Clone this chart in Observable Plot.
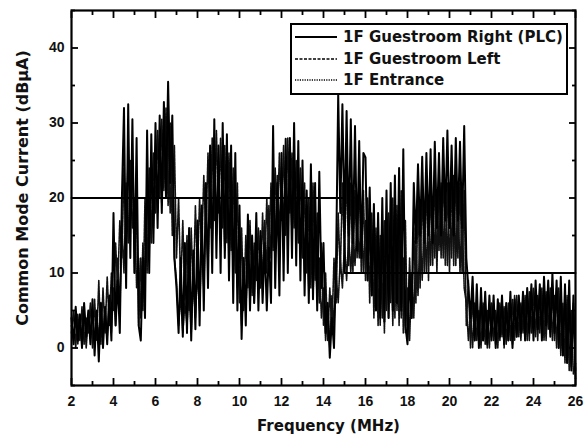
<!DOCTYPE html>
<html>
<head>
<meta charset="utf-8">
<script src="https://cdn.jsdelivr.net/npm/d3@7"></script>
<script src="https://cdn.jsdelivr.net/npm/@observablehq/plot@0.6"></script>
<style>
  html, body { margin: 0; padding: 0; background: #fff; }
  #wrap { position: relative; width: 585px; height: 435px; }
  #legend { position: absolute; left: 290px; top: 23px; width: 278px; height: 72px; border: 2px solid #000; background: #fff; box-sizing: border-box; padding: 1px 0 0 3px; }
  .row { display: flex; align-items: center; height: 21.7px; font-family: "DejaVu Sans", sans-serif; font-weight: bold; font-size: 15px; color: #111; white-space: nowrap; }
  .row svg { margin-right: 6px; flex-shrink: 0; }
</style>
</head>
<body>
<div id="wrap"></div>
<script>
// ---- data ----
const seriesNames = ["1F Guestroom Right (PLC)", "1F Guestroom Left", "1F Entrance"];
const fStart = 2, fStep = 0.1;   // MHz sampling grid
// 1F Guestroom Right (PLC) – solid
const rightPLC = [
  4,0.5,5.5,1,4.5,0,6,1.5,5,0.5,
  6.5,-1,5,-1.8,6,0,5.5,0.5,7,1,
  18,3,9,2,20,32,8,32.5,12,30.5,
  10,28,3,1,12,4,29,10,28.5,14,
  30,16,31,18,32.8,20,35.5,22,31,12,
  8,2,12,1.5,14,2,16,1,13,2.5,
  17,3,19,5,22,8,27,10,30.5,12,
  27,10,30,12,28.5,9,27,6,26,5,
  19,1.2,12,3,17.8,5,15,6,18,5,
  15.6,6,14,5,13.4,6,29.6,8,22,7,
  26,9,27.9,10,28,12,30,11,27.6,9,
  25,7,21,6,24.5,6.5,22,5,23.5,8,
  14,2,6,-1.3,4,0,12,33.8,18,32.5,
  16,31.6,15,30.5,14,29.6,13,27.6,12,26,
  25.4,9,21.4,7,19.2,5,18,4,20,3.5,
  21,4,22,5,23,6,24,5,26.5,3,
  0.5,10,4,22,14,24.5,15,25.5,14,26,
  15,26.5,14,27.5,16,26,15,28,17,29,
  16,27,15,28,17,27.5,16,29.6,12,8,
  4,9.5,1,8.5,0,8,1,7.5,0.5,7,
  1,7,0,6.5,1.5,7,0.5,6,1,7.5,
  0,6.5,1.5,7,2,7.5,1,8,2,8.5,
  1,9,2.5,8.5,1,9.5,3,9,1.5,10,
  2,9,0,9.5,-1,8.5,-2,9,-3,7,
  -4
];
// 1F Guestroom Left – dashed
const guestLeft = [
  2,5,0,4.5,1,5.5,0.5,4,2,6,
  0,6.5,1,9,0.5,8,2,9.5,3,10,
  5,14,8,17,12,24,15,26,18,25,
  10,20,3,12,5,20,10,24,14,26,
  18,29,20,30.5,21,32,19,30,15,27,
  12,20,8,17,6,15,5,16,7,19,
  10,20,13,23,15,26,16,28,17,29,
  18,28,16,27,14,26,13,24,10,22,
  6,16,5,15,8,17,7,14,9,16,
  8,18,10,20,12,22,13,24,16,26,
  17,27,15,28,18,26,16,25,14,24,
  12,22,10,20,8,22,9,18,6,14,
  3,10,1,8,2,12,6,18,10,22,
  12,24,11,22,10,21,12,23,10,21,
  9,20,6,18,4,16,3,15,4,17,
  5,18,6,20,4,19,3,21,2,17,
  1,12,4,16,6,20,8,22,10,23,
  9,22,11,24,10,23,12,24,11,22,
  10,23,11,24,12,22,10,21,3,9,
  0,7,1,6,0.5,7,1,5.5,0,6,
  1.5,6,0.5,5,1,6.5,0,5.5,1,6,
  0.5,7,1.5,6,1,7,2,6.5,1,8,
  2,7.5,1,8,2.5,7,1,8.5,2,7.5,
  1,8,0,6,-1,7,-2,5,-2.5,6,
  -3
];
// 1F Entrance – dotted
const entrance = [
  3,1,4,0.5,3.5,1.5,5,0,4,2,
  5,0.5,4.5,1,6,2,5,1.5,6.5,2,
  8,3,12,5,16,10,22,14,25,16,
  20,8,12,4,14,9,22,13,25,16,
  26,18,28,19,30,21,29,18,26,12,
  9,3,7,2,6,3,8,2,9,4,
  10,5,14,8,18,11,22,14,25,15,
  24,14,25,13,23,12,21,10,18,8,
  10,3,8,5,12,7,13,6,14,8,
  15,9,17,10,19,12,21,14,23,15,
  24,16,25,17,26,15,24,14,22,12,
  20,10,18,8,17,7,15,6,12,4,
  8,1,5,0,7,3,10,6,12,8,
  14,9,15,10,16,11,17,12,18,10,
  17,9,16,7,15,5,14,3,15,2,
  16,4,17,3,16,5,15,4,12,2,
  8,1,10,4,14,7,16,9,18,10,
  19,11,20,12,21,13,22,12,21,11,
  22,12,23,11,21,10,18,8,6,1,
  5,0,6,1,5,0,6,0.5,5,0,
  6,1,5,0,6,1.5,5.5,0.5,6,1,
  6.5,1,7,1.5,6,2,7,1,7.5,2,
  8,1.5,7,2,8,1,7.5,2.5,8,1,
  7,0,8,-1,6,-2,7,-3,5,-3.5,
  -2
];
// limit line
const limitFreq = [2, 15, 15, 26];
const limitVal = [20, 20, 10, 10];
// ticks
const xMajor = [2,4,6,8,10,12,14,16,18,20,22,24,26];
const xMinor = [3,5,7,9,11,13,15,17,19,21,23,25];
const yMajor = [0,10,20,30,40];
const yMinor = [-5,5,15,25,35,45];

// ---- build ----
const toRows = (vals, name) => vals.map((v, i) => ({f: fStart + i * fStep, v, name}));
const dataRight = toRows(rightPLC, seriesNames[0]);
const dataLeft = toRows(guestLeft, seriesNames[1]);
const dataEnt = toRows(entrance, seriesNames[2]);
const limit = limitFreq.map((f, i) => ({f, v: limitVal[i]}));

const bigT = 7, smallT = 4;
const noLab = {tickFormat: () => "", label: null, stroke: "#000", strokeWidth: 1.8};
const inTicks = [];
for (const a of ["bottom", "top"]) {
  inTicks.push(Plot.axisX(xMajor, {anchor: a, tickSize: -bigT, ...noLab}));
  inTicks.push(Plot.axisX(xMinor, {anchor: a, tickSize: -smallT, ...noLab}));
}
for (const a of ["left", "right"]) {
  inTicks.push(Plot.axisY(yMajor, {anchor: a, tickSize: -bigT, ...noLab}));
  inTicks.push(Plot.axisY(yMinor, {anchor: a, tickSize: -smallT, ...noLab}));
}

const chart = Plot.plot({
  width: 585, height: 435,
  marginLeft: 71, marginRight: 10, marginTop: 10, marginBottom: 50,
  style: {fontFamily: "'Liberation Sans', Arial, sans-serif", fontWeight: "bold", fontSize: "14px", color: "#111", background: "#fff"},
  x: {domain: [2, 26]},
  y: {domain: [-5, 45]},
  marks: [
    Plot.line(dataEnt, {x: "f", y: "v", stroke: "#111", strokeWidth: 1.6, strokeDasharray: "1.5,0.8"}),
    Plot.line(dataLeft, {x: "f", y: "v", stroke: "#111", strokeWidth: 1.6, strokeDasharray: "3,0.8"}),
    Plot.line(dataRight, {x: "f", y: "v", stroke: "#000", strokeWidth: 2}),
    Plot.line(limit, {x: "f", y: "v", stroke: "#000", strokeWidth: 1.8}),
    ...inTicks,
    Plot.axisX(xMajor, {tickSize: 0, tickPadding: 11, fontSize: 14, fontWeight: "bold",
      label: "Frequency (MHz)", labelAnchor: "center", labelArrow: "none", labelOffset: 45}),
    Plot.axisY(yMajor, {tickSize: 0, tickPadding: 7, fontSize: 14, fontWeight: "bold",
      label: "Common Mode Current (dBμA)", labelAnchor: "center", labelArrow: "none", labelOffset: 55}),
    Plot.frame({stroke: "#000", strokeWidth: 2.2})
  ]
});

// axis label typography
chart.querySelectorAll("[aria-label='x-axis label'] text").forEach(t => {
  t.style.fontSize = "15px";
  t.style.fontFamily = "'DejaVu Sans', sans-serif";
  t.setAttribute("dx", "5");
});
chart.querySelectorAll("[aria-label='y-axis label'] text").forEach(t => {
  t.style.fontSize = "16px";
  t.style.fontFamily = "'DejaVu Sans', sans-serif";
  t.setAttribute("dx", "10");
});

const wrap = document.getElementById("wrap");
wrap.appendChild(chart);

// legend (HTML overlay inside the plot frame)
const legend = document.createElement("div");
legend.id = "legend";
const dashes = [null, "3,1.5", "1.2,1.2"];
seriesNames.forEach((name, i) => {
  const row = document.createElement("div");
  row.className = "row";
  row.innerHTML = `<svg width="42" height="6"><line x1="0" y1="3" x2="42" y2="3" stroke="#000" stroke-width="${i === 0 ? 2 : 1.4}" ${dashes[i] ? `stroke-dasharray="${dashes[i]}"` : ""}/></svg><span>${name}</span>`;
  legend.appendChild(row);
});
wrap.appendChild(legend);
</script>
</body>
</html>
